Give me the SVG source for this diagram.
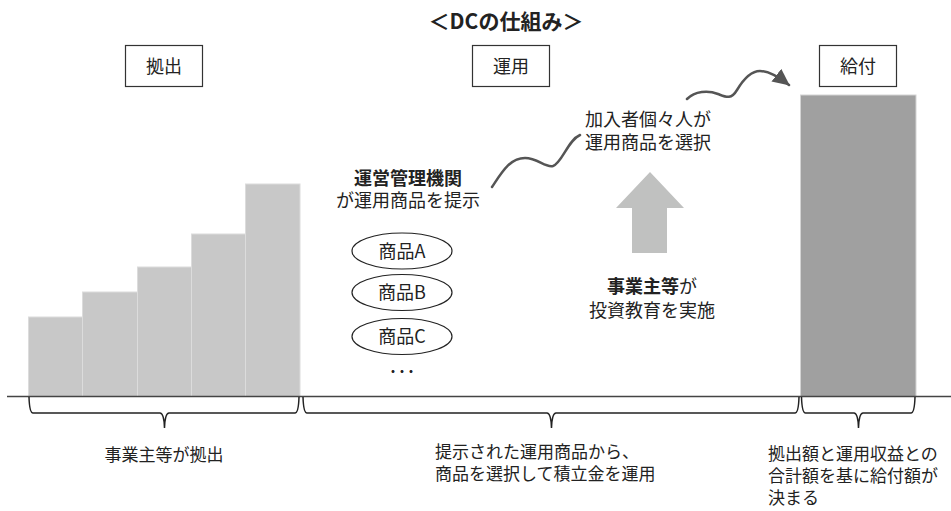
<svg xmlns="http://www.w3.org/2000/svg" width="951" height="511" viewBox="0 0 951 511">
<style>
text{font-family:"Noto Sans CJK JP","Noto Sans",sans-serif;fill:#222;}
.t18{font-size:18px;}
.t17{font-size:17px;}
.b{font-weight:bold;}
.box{fill:#fff;stroke:#333;stroke-width:1.2;}
.bar{fill:#c8c8c8;stroke:#dcdcdc;stroke-width:1;}
.brace{fill:none;stroke:#222;stroke-width:1.5;}
.wave{fill:none;stroke:#555;stroke-width:2.5;stroke-linecap:round;}
.ell{fill:#fff;stroke:#222;stroke-width:1.2;}
</style>
<defs>
<marker id="ah" markerUnits="userSpaceOnUse" markerWidth="20" markerHeight="20" refX="16" refY="8" orient="auto">
<path d="M0,0 L17,8 L0,16 Z" fill="#555"/>
</marker>
</defs>
<rect width="951" height="511" fill="#fff"/>

<text id="title" class="b" x="506" y="29" font-size="21" text-anchor="middle">＜DCの仕組み＞</text>

<g id="kyoshutsu">
<rect class="box" x="125.5" y="45.5" width="77" height="41"/>
<text class="t18" x="164" y="73" text-anchor="middle">拠出</text>
</g>
<g id="unyou">
<rect class="box" x="472.5" y="45.5" width="77" height="41"/>
<text class="t18" x="511" y="73" text-anchor="middle">運用</text>
</g>
<g id="kyufu">
<rect class="box" x="819.5" y="45.5" width="77" height="41"/>
<text class="t18" x="858" y="73" text-anchor="middle">給付</text>
</g>

<g id="contrib-bars">
<rect class="bar" x="28.5" y="317" width="54" height="79.5"/>
<rect class="bar" x="82.5" y="292" width="55" height="104.5"/>
<rect class="bar" x="137.5" y="267" width="54" height="129.5"/>
<rect class="bar" x="191.5" y="234" width="54" height="162.5"/>
<rect class="bar" x="245.5" y="184" width="54.5" height="212.5"/>
</g>

<g id="benefit-bar">
<rect x="800.5" y="95" width="115.5" height="301.5" fill="#a0a0a0" stroke="#d4d4d4" stroke-width="1"/>
</g>

<g id="axis">
<line x1="7" y1="396.5" x2="951" y2="396.5" stroke="#444" stroke-width="1.5"/>
</g>

<g id="braces">
<path class="brace" d="M29,397 Q29.5,413 33,413 L160,413 Q164,413 164.5,428 Q165,413 169,413 L295,413 Q298.5,413 299,397"/>
<path class="brace" d="M303,397 Q303.5,413 307,413 L547,413 Q551,413 551.5,428 Q552,413 556,413 L795,413 Q798.5,413 799,397"/>
<path class="brace" d="M801.5,397 Q802,413 805.5,413 L854,413 Q858,413 858.5,428 Q859,413 863,413 L911,413 Q914.5,413 915,397"/>
</g>

<g id="connectors">
<path class="wave" d="M492,187 C502,172 510,158 525,158 C538,158 545,168 553,166 C562,163 568,140 580,135"/>
<path class="wave" d="M687,99 C695,91 708,90 718,94 C726,97 731,100 737,90 C743,80 750,71 760,71 C770,71 780,78 789,85" marker-end="url(#ah)"/>
<polygon points="650,172 684,208 667,208 667,253 632,253 632,208 616,208" fill="#c0c1c0"/>
</g>

<g id="admin">
<text class="t18 b" x="408" y="185" text-anchor="middle">運営管理機関</text>
<text class="t18" x="408" y="207" text-anchor="middle">が運用商品を提示</text>
</g>

<g id="productA">
<ellipse class="ell" cx="402" cy="251" rx="50" ry="18"/>
<text class="t18" x="402" y="258" text-anchor="middle">商品A</text>
</g>
<g id="productB">
<ellipse class="ell" cx="402" cy="292.5" rx="50" ry="18"/>
<text class="t18" x="402" y="299" text-anchor="middle">商品B</text>
</g>
<g id="productC">
<ellipse class="ell" cx="402" cy="336.5" rx="50" ry="18"/>
<text class="t18" x="402" y="343" text-anchor="middle">商品C</text>
</g>
<text class="t18" x="402" y="378" text-anchor="middle">･･･</text>

<g id="member">
<text class="t18" x="585" y="126">加入者個々人が</text>
<text class="t18" x="585" y="149">運用商品を選択</text>
</g>

<g id="employer">
<text class="t18" x="652" y="293" text-anchor="middle"><tspan class="b">事業主等</tspan>が</text>
<text class="t18" x="652" y="317" text-anchor="middle">投資教育を実施</text>
</g>

<g id="label-contrib">
<text class="t17" x="164" y="461" text-anchor="middle">事業主等が拠出</text>
</g>
<g id="label-invest">
<text class="t17" x="435" y="458">提示された運用商品から、</text>
<text class="t17" x="435" y="480">商品を選択して積立金を運用</text>
</g>
<g id="label-benefit">
<text class="t17" x="768" y="460">拠出額と運用収益との</text>
<text class="t17" x="768" y="482">合計額を基に給付額が</text>
<text class="t17" x="768" y="504">決まる</text>
</g>
</svg>
